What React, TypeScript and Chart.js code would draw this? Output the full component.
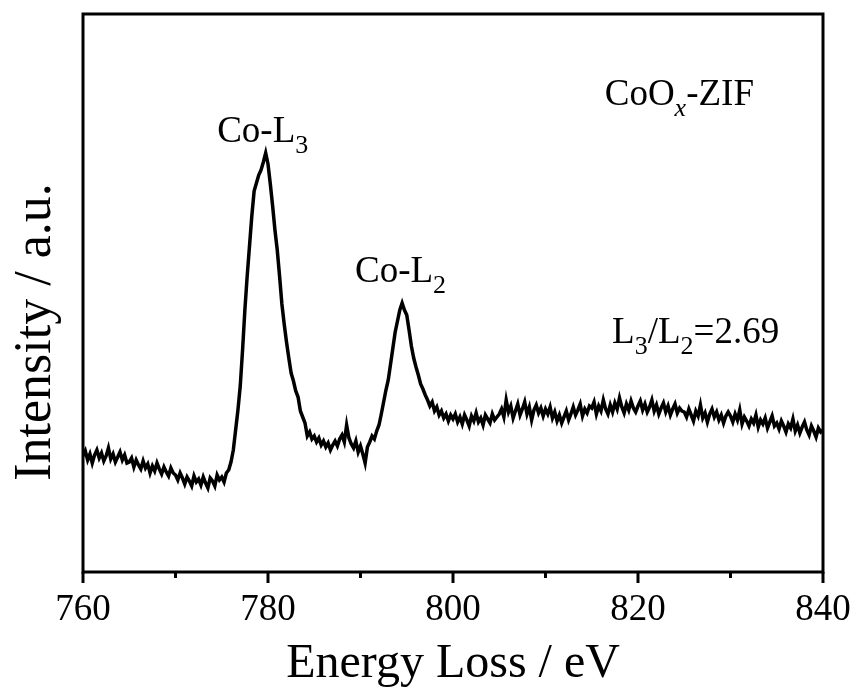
import { useEffect, useRef } from 'react';
import { Chart, registerables } from 'chart.js';

Chart.register(...registerables);

// Energy grid (eV) sampled every 0.25 eV from 760 to 840
const ENERGY_START = 760;
const ENERGY_STEP = 0.25;

// Intensity (a.u.), one row = 5 eV
const intensity: number[] = [
  116, 121, 112, 118, 109, 117, 122, 114, 119, 111, 116, 124, 113, 118, 110, 115, 120, 112, 117, 109,
  110, 114, 105, 112, 107, 103, 111, 104, 108, 99, 106, 101, 109, 103, 98, 105, 100, 96, 104, 99,
  97, 92, 99, 94, 88, 95, 91, 86, 96, 90, 93, 87, 95, 89, 84, 94, 91, 86, 97, 92,
  95, 90, 99, 102, 110, 122, 142, 162, 186, 222, 262, 296, 326, 356, 381, 389, 397, 402, 410, 419,
  408, 388, 366, 342, 322, 296, 268, 248, 230, 214, 199, 191, 181, 175, 161, 155, 149, 136, 140, 133,
  136, 130, 134, 127, 131, 125, 129, 122, 127, 131, 126, 133, 137, 130, 147, 134, 128, 124, 131, 120,
  126, 118, 109, 125, 130, 136, 133, 141, 147, 158, 170, 182, 192, 208, 224, 240, 251, 262, 269, 262,
  257, 242, 226, 214, 205, 197, 188, 183, 177, 172, 166, 170, 161, 165, 157, 161, 154, 158, 151, 157,
  153, 158, 150, 155, 148, 157, 152, 146, 156, 151, 159, 150, 154, 147, 157, 153, 149, 158, 152, 155,
  158, 163, 155, 172, 160, 166, 154, 161, 168, 157, 163, 170, 158, 165, 152, 162, 167, 159, 164, 156,
  163, 158, 165, 154, 160, 151, 157, 149, 155, 161, 152, 158, 165, 157, 162, 168, 156, 163, 159, 166,
  164, 170, 158, 166, 161, 172, 163, 158, 167, 160, 169, 163, 174, 165, 159, 168, 162, 171, 164, 160,
  166, 171, 162, 168, 160, 165, 172, 161, 167, 158, 164, 169, 160, 166, 157, 163, 168, 159, 164, 161,
  160, 155, 163, 157, 151, 161, 156, 167, 154, 159, 150, 158, 163, 155, 160, 152, 157, 149, 156, 160,
  156, 150, 158, 152, 162, 148, 155, 151, 146, 153, 149, 157, 145, 152, 148, 154, 144, 150, 156, 146,
  149, 143, 151, 146, 140, 148, 144, 153, 141, 147, 139, 145, 150, 142, 137, 146, 141, 135, 144, 140,
  142,
];

const X_MIN = 760;
const X_MAX = 840;
const Y_MIN = 0;
const Y_MAX = 558;
const majorTicks = [760, 780, 800, 820, 840];
const minorTicks = [770, 790, 810, 830];

const xTitle = 'Energy Loss / eV';
const yTitle = 'Intensity / a.u.';

type Run = { t: string; sub?: boolean; italic?: boolean };
type Note = { x: number; y: number; runs: Run[] };

// annotation anchors in data coordinates (left start, baseline)
const notes: Note[] = [
  { x: 774.5, y: 430, runs: [{ t: 'Co-L' }, { t: '3', sub: true }] },
  { x: 789.4, y: 290, runs: [{ t: 'Co-L' }, { t: '2', sub: true }] },
  { x: 816.4, y: 467, runs: [{ t: 'CoO' }, { t: 'x', sub: true, italic: true }, { t: '-ZIF' }] },
  {
    x: 817.2,
    y: 229,
    runs: [{ t: 'L' }, { t: '3', sub: true }, { t: '/L' }, { t: '2', sub: true }, { t: '=2.69' }],
  },
];

const FONT = '"Liberation Serif", "Times New Roman", serif';

const framePlugin = {
  id: 'framePlugin',
  afterDraw(chart: any) {
    const ctx: CanvasRenderingContext2D = chart.ctx;
    const { left, right, top, bottom } = chart.chartArea;
    const xs = chart.scales.x;
    const ys = chart.scales.y;
    ctx.save();
    ctx.strokeStyle = '#000';
    ctx.fillStyle = '#000';
    ctx.lineWidth = 3;
    ctx.strokeRect(left, top, right - left, bottom - top);
    ctx.beginPath();
    majorTicks.forEach((v) => {
      const px = xs.getPixelForValue(v);
      ctx.moveTo(px, bottom);
      ctx.lineTo(px, bottom + 11);
    });
    minorTicks.forEach((v) => {
      const px = xs.getPixelForValue(v);
      ctx.moveTo(px, bottom);
      ctx.lineTo(px, bottom + 6);
    });
    ctx.stroke();

    // axis titles
    ctx.font = `48px ${FONT}`;
    ctx.textAlign = 'center';
    ctx.textBaseline = 'alphabetic';
    ctx.fillText(xTitle, (left + right) / 2, bottom + 105);

    ctx.save();
    ctx.translate(left - 33, 332);
    ctx.rotate(-Math.PI / 2);
    ctx.font = `52px ${FONT}`;
    ctx.fillText(yTitle, 0, 0);
    ctx.restore();

    // annotations
    ctx.textAlign = 'left';
    notes.forEach((n) => {
      let x = xs.getPixelForValue(n.x);
      const y = ys.getPixelForValue(n.y);
      n.runs.forEach((r) => {
        ctx.font = `${r.italic ? 'italic ' : ''}${r.sub ? 26 : 37}px ${FONT}`;
        ctx.fillText(r.t, x, r.sub ? y + 11 : y);
        x += ctx.measureText(r.t).width;
      });
    });
    ctx.restore();
  },
};

export default function App() {
  const ref = useRef<HTMLCanvasElement | null>(null);

  useEffect(() => {
    if (!ref.current) return;
    const points = intensity.map((v, i) => ({ x: ENERGY_START + i * ENERGY_STEP, y: v }));
    const chart = new Chart(ref.current, {
      type: 'line',
      data: {
        datasets: [
          {
            data: points,
            borderColor: '#000',
            borderWidth: 3.5,
            pointRadius: 0,
            tension: 0,
            fill: false,
          },
        ],
      },
      options: {
        animation: false,
        responsive: true,
        maintainAspectRatio: false,
        devicePixelRatio: 1,
        layout: { padding: { left: 83, top: 14, right: 35, bottom: 0 } },
        plugins: { legend: { display: false }, tooltip: { enabled: false } },
        scales: {
          x: {
            type: 'linear',
            min: X_MIN,
            max: X_MAX,
            afterFit: (scale: any) => {
              scale.height = 118;
              scale.paddingLeft = 0;
              scale.paddingRight = 0;
            },
            afterBuildTicks: (scale: any) => {
              scale.ticks = majorTicks.map((v) => ({ value: v }));
            },
            grid: { display: false, drawTicks: false },
            border: { display: false },
            ticks: {
              color: '#000',
              padding: 16,
              maxRotation: 0,
              autoSkip: false,
              font: { family: FONT, size: 37 },
            },
          },
          y: {
            type: 'linear',
            min: Y_MIN,
            max: Y_MAX,
            display: false,
          },
        },
      },
      plugins: [framePlugin],
    });
    return () => chart.destroy();
  }, []);

  return (
    <div style={{ position: 'absolute', left: 0, top: 0, width: 858, height: 690, background: '#fff' }}>
      <canvas ref={ref} />
    </div>
  );
}
